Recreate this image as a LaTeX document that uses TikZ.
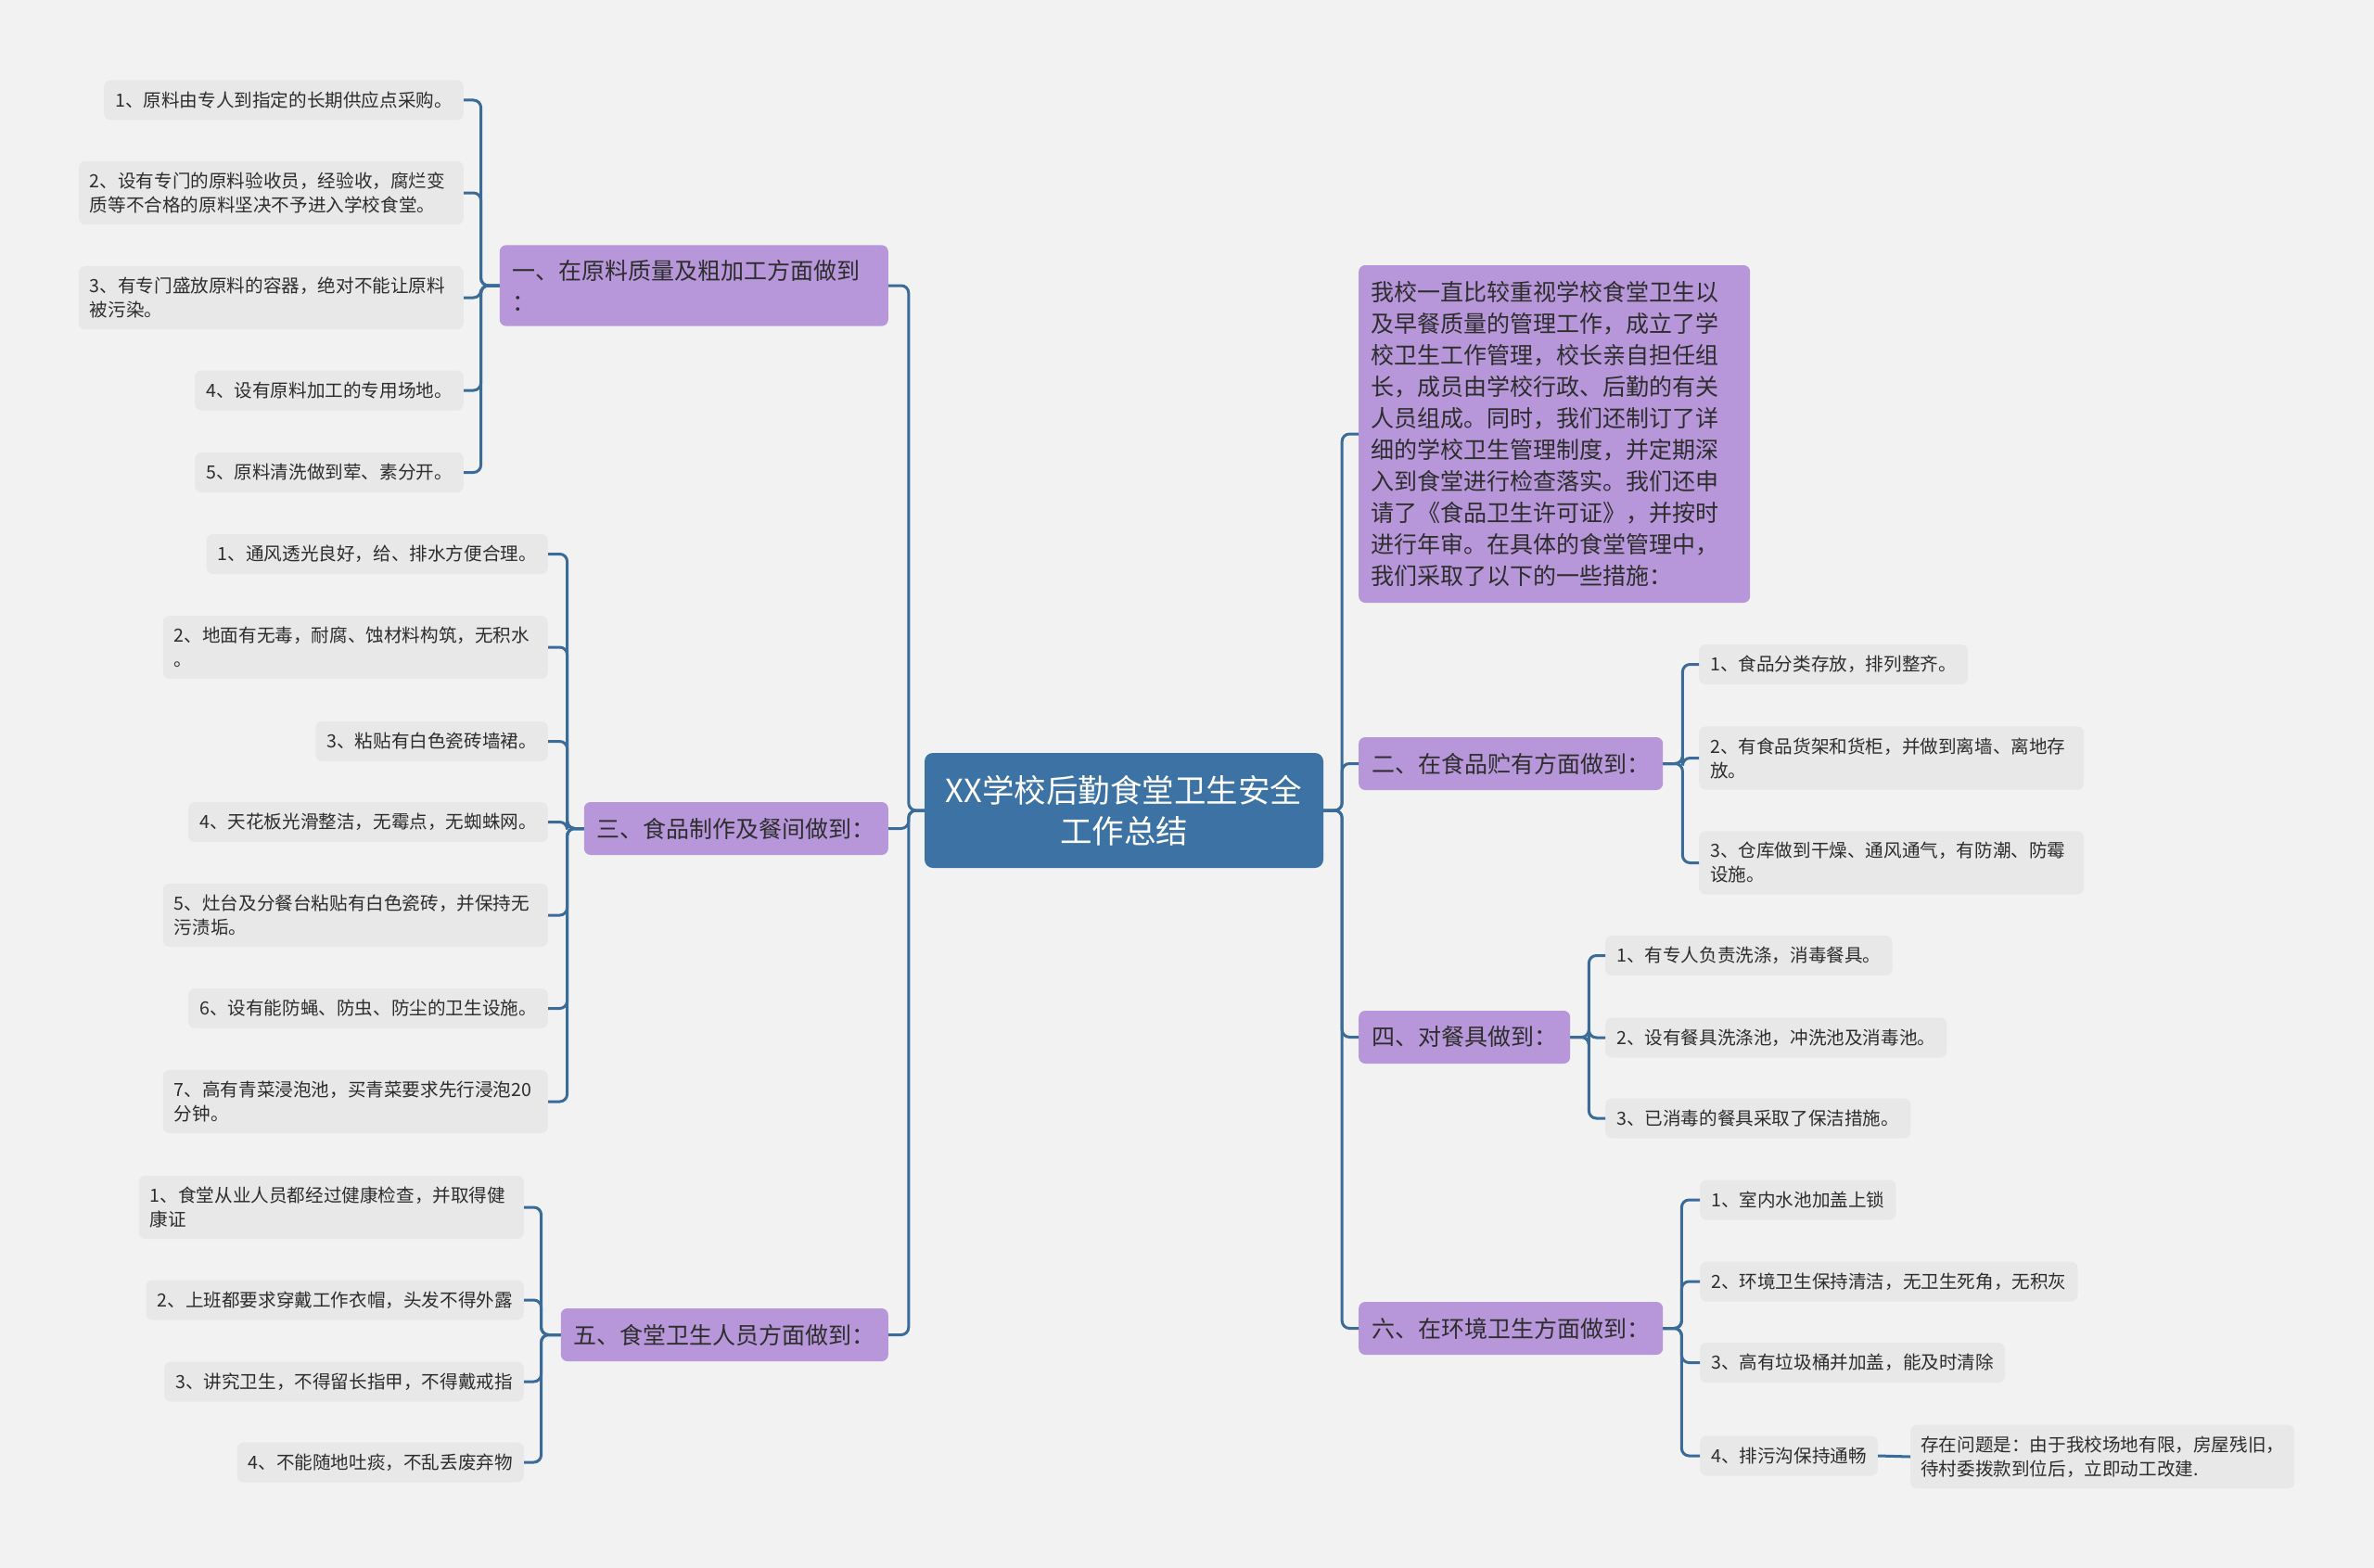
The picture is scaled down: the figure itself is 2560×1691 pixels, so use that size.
\documentclass[tikz,border=0pt]{standalone}
\usepackage{fontspec}
\setmainfont{Noto Sans CJK SC}
\definecolor{bgc}{RGB}{242,242,242}
\definecolor{rootblue}{RGB}{61,114,164}
\definecolor{topicpurple}{RGB}{183,151,218}
\definecolor{leafgray}{RGB}{232,232,232}
\definecolor{linkblue}{RGB}{59,108,153}
\definecolor{txt}{RGB}{45,45,45}

\begin{document}
\begin{tikzpicture}[x=1pt,y=-1pt,
          link/.style={draw=linkblue, line width=3pt, rounded corners=8pt},
          root/.style={fill=rootblue, rounded corners=9pt, text=white, align=center,
            font=\fontsize{34.5}{44}\selectfont, minimum width=430pt, minimum height=124pt},
          topic/.style={fill=topicpurple, rounded corners=7pt, text=txt, align=left,
            font=\fontsize{25}{34}\selectfont, inner xsep=14pt, inner ysep=16pt, minimum height=57pt},
          leaf/.style={fill=leafgray, rounded corners=7pt, text=txt, align=left,
            font=\fontsize{19.6}{26}\selectfont, inner xsep=12pt, inner ysep=12pt, minimum height=43pt},
          wideleaf/.style={leaf, text width=391pt}]
          \useasboundingbox (0,0) rectangle (2560,1691);
          \fill [bgc] (0,0) rectangle (2560,1691); % background

          \node [root] (xx) at (1212,874) {XX学校后勤食堂卫生安全\\工作总结}; % centre

          % left topics
          \node [topic, anchor=east, text width=391pt] (t1) at (958,308) {一、在原料质量及粗加工方面做到\\：};
          \node [topic, anchor=east] (t3) at (958,893.5) {三、食品制作及餐间做到：};
          \node [topic, anchor=east] (t5) at (958,1439.5) {五、食堂卫生人员方面做到：};

          % right topics
          \node [topic, anchor=west, text width=396pt, inner xsep=13pt, minimum height=364pt] (intro) at (1465,468)
            {我校一直比较重视学校食堂卫生以\\及早餐质量的管理工作，成立了学\\校卫生工作管理，校长亲自担任组\\长，成员由学校行政、后勤的有关\\人员组成。同时，我们还制订了详\\细的学校卫生管理制度，并定期深\\入到食堂进行检查落实。我们还申\\请了《食品卫生许可证》，并按时\\进行年审。在具体的食堂管理中，\\我们采取了以下的一些措施：};
          \node [topic, anchor=west] (t2) at (1465,823.5) {二、在食品贮有方面做到：};
          \node [topic, anchor=west] (t4) at (1465,1118.5) {四、对餐具做到：};
          \node [topic, anchor=west] (t6) at (1465,1432.5) {六、在环境卫生方面做到：};

          % leaves of t1
          \node [leaf, anchor=east] (a1) at (500,108) {1、原料由专人到指定的长期供应点采购。};
          \node [wideleaf, anchor=east] (a2) at (500,208) {2、设有专门的原料验收员，经验收，腐烂变\\质等不合格的原料坚决不予进入学校食堂。};
          \node [wideleaf, anchor=east] (a3) at (500,321) {3、有专门盛放原料的容器，绝对不能让原料\\被污染。};
          \node [leaf, anchor=east] (a4) at (500,421) {4、设有原料加工的专用场地。};
          \node [leaf, anchor=east] (a5) at (500,509.5) {5、原料清洗做到荤、素分开。};

          % leaves of t3
          \node [leaf, anchor=east] (c1) at (591,597.5) {1、通风透光良好，给、排水方便合理。};
          \node [wideleaf, anchor=east] (c2) at (591,698) {2、地面有无毒，耐腐、蚀材料构筑，无积水\\。};
          \node [leaf, anchor=east] (c3) at (591,799.5) {3、粘贴有白色瓷砖墙裙。};
          \node [leaf, anchor=east] (c4) at (591,886.5) {4、天花板光滑整洁，无霉点，无蜘蛛网。};
          \node [wideleaf, anchor=east] (c5) at (591,987) {5、灶台及分餐台粘贴有白色瓷砖，并保持无\\污渍垢。};
          \node [leaf, anchor=east] (c6) at (591,1087.5) {6、设有能防蝇、防虫、防尘的卫生设施。};
          \node [wideleaf, anchor=east] (c7) at (591,1188) {7、高有青菜浸泡池，买青菜要求先行浸泡20\\分钟。};

          % leaves of t5
          \node [wideleaf, anchor=east] (e1) at (565,1302) {1、食堂从业人员都经过健康检查，并取得健\\康证};
          \node [leaf, anchor=east] (e2) at (565,1402) {2、上班都要求穿戴工作衣帽，头发不得外露};
          \node [leaf, anchor=east] (e3) at (565,1490) {3、讲究卫生，不得留长指甲，不得戴戒指};
          \node [leaf, anchor=east] (e4) at (565,1577) {4、不能随地吐痰，不乱丢废弃物};

          % leaves of t2
          \node [leaf, anchor=west] (b1) at (1832,716.5) {1、食品分类存放，排列整齐。};
          \node [wideleaf, anchor=west] (b2) at (1832,817.5) {2、有食品货架和货柜，并做到离墙、离地存\\放。};
          \node [wideleaf, anchor=west] (b3) at (1832,930.5) {3、仓库做到干燥、通风通气，有防潮、防霉\\设施。};

          % leaves of t4
          \node [leaf, anchor=west] (d1) at (1731,1030.5) {1、有专人负责洗涤，消毒餐具。};
          \node [leaf, anchor=west] (d2) at (1731,1119) {2、设有餐具洗涤池，冲洗池及消毒池。};
          \node [leaf, anchor=west] (d3) at (1731,1206) {3、已消毒的餐具采取了保洁措施。};

          % leaves of t6
          \node [leaf, anchor=west] (f1) at (1833,1294) {1、室内水池加盖上锁};
          \node [leaf, anchor=west] (f2) at (1833,1382) {2、环境卫生保持清洁，无卫生死角，无积灰};
          \node [leaf, anchor=west] (f3) at (1833,1469.5) {3、高有垃圾桶并加盖，能及时清除};
          \node [leaf, anchor=west] (f4) at (1833,1570) {4、排污沟保持通畅};
          \node [wideleaf, anchor=west, text width=392pt, inner xsep=11pt] (f4n) at (2060,1571) {存在问题是：由于我校场地有限，房屋残旧，\\待村委拨款到位后，立即动工改建.};

          % centre to topics
          \draw [link] (xx.west) -- ++(-17,0) |- (t1.east);
          \draw [link] (xx.west) -- ++(-17,0) |- (t3.east);
          \draw [link] (xx.west) -- ++(-17,0) |- (t5.east);
          \draw [link] (xx.east) -- ++(20,0) |- (intro.west);
          \draw [link] (xx.east) -- ++(20,0) |- (t2.west);
          \draw [link] (xx.east) -- ++(20,0) |- (t4.west);
          \draw [link] (xx.east) -- ++(20,0) |- (t6.west);

          % topics to leaves
          \draw [link] (t1.west) -- ++(-20,0) |- (a1.east);
          \draw [link] (t1.west) -- ++(-20,0) |- (a2.east);
          \draw [link] (t1.west) -- ++(-20,0) |- (a3.east);
          \draw [link] (t1.west) -- ++(-20,0) |- (a4.east);
          \draw [link] (t1.west) -- ++(-20,0) |- (a5.east);

          \draw [link] (t3.west) -- ++(-18,0) |- (c1.east);
          \draw [link] (t3.west) -- ++(-18,0) |- (c2.east);
          \draw [link] (t3.west) -- ++(-18,0) |- (c3.east);
          \draw [link] (t3.west) -- ++(-18,0) |- (c4.east);
          \draw [link] (t3.west) -- ++(-18,0) |- (c5.east);
          \draw [link] (t3.west) -- ++(-18,0) |- (c6.east);
          \draw [link] (t3.west) -- ++(-18,0) |- (c7.east);

          \draw [link] (t5.west) -- ++(-21,0) |- (e1.east);
          \draw [link] (t5.west) -- ++(-21,0) |- (e2.east);
          \draw [link] (t5.west) -- ++(-21,0) |- (e3.east);
          \draw [link] (t5.west) -- ++(-21,0) |- (e4.east);

          \draw [link] (t2.east) -- ++(21,0) |- (b1.west);
          \draw [link] (t2.east) -- ++(21,0) |- (b2.west);
          \draw [link] (t2.east) -- ++(21,0) |- (b3.west);

          \draw [link] (t4.east) -- ++(20,0) |- (d1.west);
          \draw [link] (t4.east) -- ++(20,0) |- (d2.west);
          \draw [link] (t4.east) -- ++(20,0) |- (d3.west);

          \draw [link] (t6.east) -- ++(20,0) |- (f1.west);
          \draw [link] (t6.east) -- ++(20,0) |- (f2.west);
          \draw [link] (t6.east) -- ++(20,0) |- (f3.west);
          \draw [link] (t6.east) -- ++(20,0) |- (f4.west);

          \draw [link] (f4.east) -- (f4n.west);
        \end{tikzpicture}
\end{document}
